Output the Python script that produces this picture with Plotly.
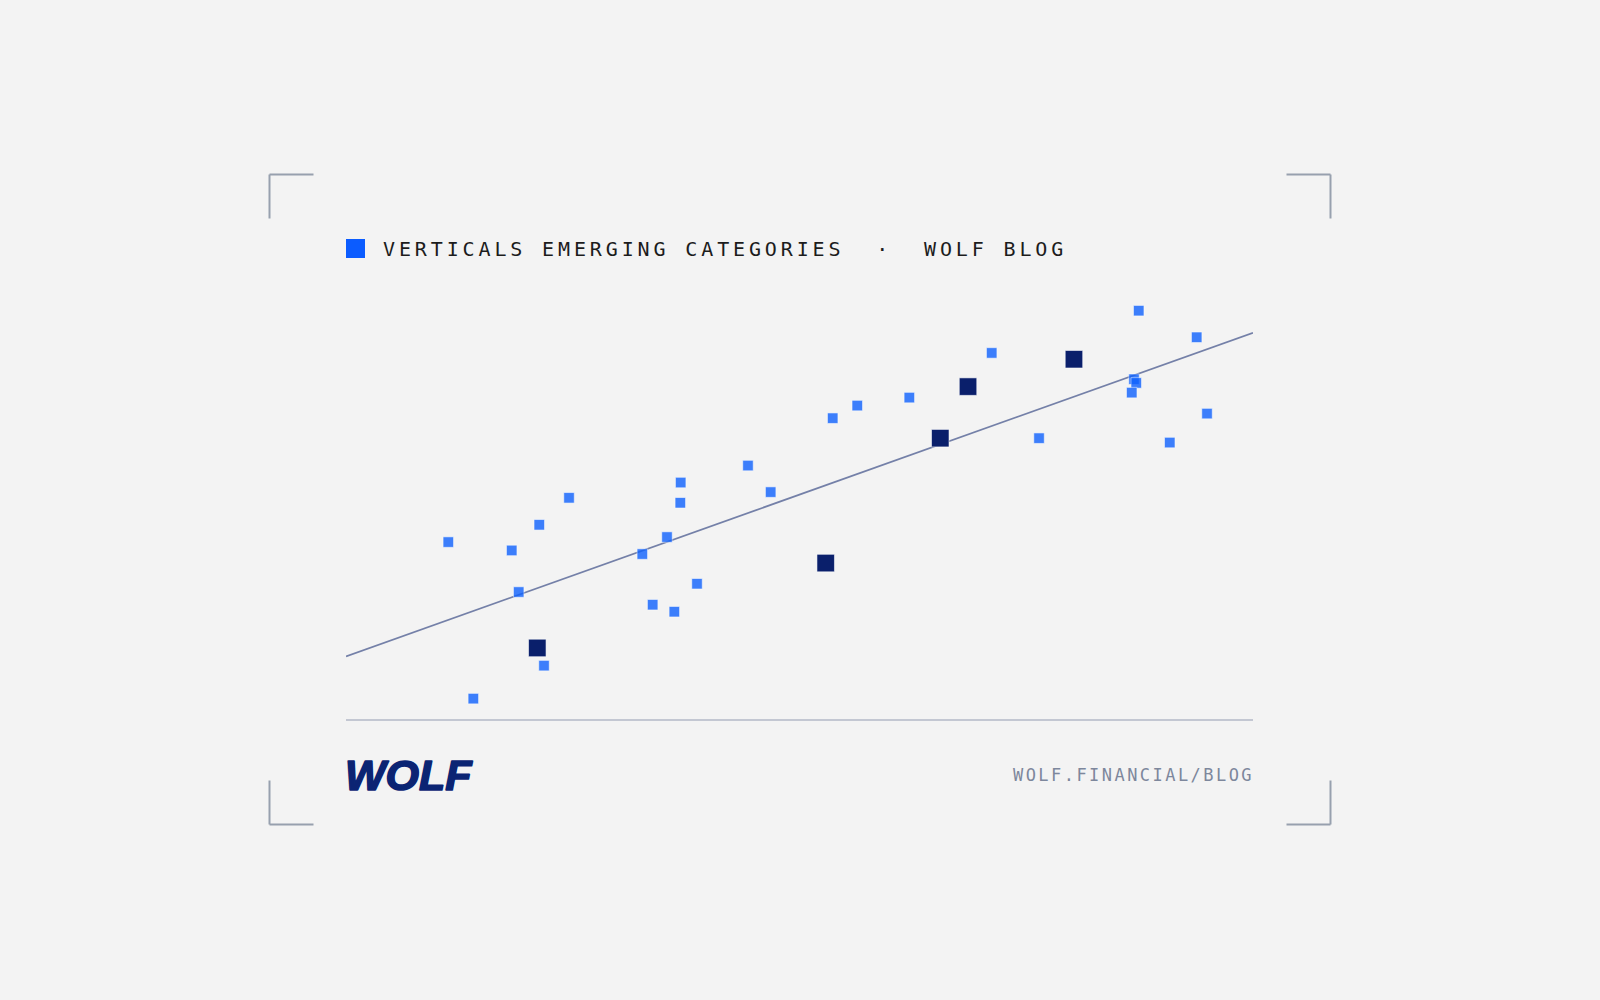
import plotly.graph_objects as go

# ---------------- data ----------------
light_x = [11.28, 18.27, 21.31, 24.59, 19.04, 14.04, 21.83, 32.67, 35.39, 36.90, 36.86,
           33.81, 36.20, 38.70, 44.32, 46.82, 53.66, 56.37, 62.11, 71.19, 76.41,
           87.40, 86.88, 87.13, 86.63, 93.79, 94.93, 90.82]
light_y = [41.24, 39.29, 45.27, 51.56, 29.60, 4.75, 12.44, 38.45, 42.41, 55.12, 50.40,
           26.64, 25.01, 31.53, 59.08, 52.89, 70.12, 73.06, 74.92, 85.33, 65.46,
           95.18, 79.20, 78.34, 76.08, 88.98, 71.19, 64.44]
dark_x = [21.09, 52.89, 65.52, 68.58, 80.26]
dark_y = [16.56, 36.35, 65.46, 77.48, 83.86]
trend_x = [0, 100]
trend_y = [14.6, 90.0]

title_text = "VERTICALS EMERGING CATEGORIES  ·  WOLF BLOG"
footer_text = "WOLF.FINANCIAL/BLOG"
logo_text = "WOLF"

# ---------------- layout geometry ----------------
W, H = 1600, 1000
L, R, T, B = 346, 1253, 290, 719


def xp(px):
    return (px - L) / (R - L)


def yp(py):
    return (B - py) / (B - T)


BG = "#F3F3F3"
LIGHT = "#0F62FE"
DARK = "#0A1F6B"
BRACKET = "#97A0AE"
LOGO = "#0B2473"

fig = go.Figure()
fig.add_trace(go.Scatter(x=trend_x, y=trend_y, mode="lines",
                         line=dict(color="#7480A8", width=1.7),
                         hoverinfo="skip", showlegend=False))
fig.add_trace(go.Scatter(x=light_x, y=light_y, mode="markers",
                         marker=dict(symbol="square", size=10.5, color=LIGHT, opacity=0.8,
                                     line=dict(color="rgba(255,255,255,0.7)", width=0.8)),
                         showlegend=False))
fig.add_trace(go.Scatter(x=dark_x, y=dark_y, mode="markers",
                         marker=dict(symbol="square", size=17.5, color=DARK,
                                     line=dict(color="rgba(255,255,255,0.7)", width=0.8)),
                         showlegend=False))

shapes = []
# corner brackets
arm = 44
lx, rx, ty, by = 269.5, 1330.5, 174.5, 824.5
for (cx, cy, dx, dy) in [(lx, ty, 1, 1), (rx, ty, -1, 1), (lx, by, 1, -1), (rx, by, -1, -1)]:
    shapes.append(dict(type="line", xref="paper", yref="paper",
                       x0=xp(cx), y0=yp(cy), x1=xp(cx + dx * arm), y1=yp(cy),
                       line=dict(color=BRACKET, width=2)))
    shapes.append(dict(type="line", xref="paper", yref="paper",
                       x0=xp(cx), y0=yp(cy), x1=xp(cx), y1=yp(cy + dy * arm),
                       line=dict(color=BRACKET, width=2)))
# legend square in title
shapes.append(dict(type="rect", xref="paper", yref="paper",
                   x0=xp(346), x1=xp(365), y0=yp(258), y1=yp(239),
                   fillcolor="#0B5CFF", line=dict(width=0)))

annotations = [
    dict(xref="paper", yref="paper", x=xp(381), y=yp(248.5), xanchor="left", yanchor="middle",
         text='<span style="letter-spacing:3.87px">' + title_text + '</span>',
         showarrow=False, font=dict(family="DejaVu Sans Mono", size=20, color="#1C1C1C")),
    dict(xref="paper", yref="paper", x=xp(1256), y=yp(775), xanchor="right", yanchor="middle",
         text='<span style="letter-spacing:2.45px">' + footer_text + '</span>',
         showarrow=False, font=dict(family="DejaVu Sans Mono", size=17, color="#7D879C")),
    dict(xref="paper", yref="paper", x=xp(343), y=yp(775), xanchor="left", yanchor="middle",
         text='<span style="stroke:' + LOGO + ';stroke-width:1.6px;stroke-linejoin:round">'
              '<b><i>' + logo_text + '</i></b></span>',
         showarrow=False, font=dict(family="Liberation Sans", size=43, color=LOGO)),
]

fig.update_layout(
    width=W, height=H, autosize=False,
    margin=dict(l=L, r=W - R, t=T, b=H - B, pad=0),
    paper_bgcolor=BG, plot_bgcolor=BG,
    shapes=shapes, annotations=annotations,
    xaxis=dict(range=[0, 100], showgrid=False, zeroline=False, showticklabels=False,
               ticks="", showline=True, linecolor="#C3C7D2", linewidth=1.5, fixedrange=True),
    yaxis=dict(range=[0, 100], showgrid=False, zeroline=False, showticklabels=False,
               ticks="", showline=False, fixedrange=True),
    hovermode=False,
)

fig.write_html("out.html", config={"displayModeBar": False},
               post_script="document.body.style.margin='0';"
                           "document.body.style.background='#F3F3F3';"
                           "document.body.style.overflow='hidden';")
